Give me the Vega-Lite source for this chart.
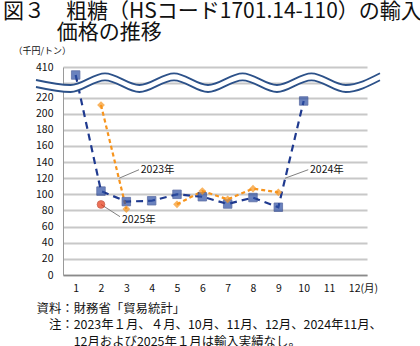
{
  "$schema": "https://vega.github.io/schema/vega-lite/v6.json",
  "width": 304,
  "height": 208,
  "autosize": {"type": "none"},
  "padding": {"left": 63, "top": 67, "right": 53, "bottom": 71},
  "background": "white",
  "title": {
    "text": ["図３　粗糖（HSコード1701.14-110）の輸入", "\u200b　　\u2002\u200a価格の推移"],
    "anchor": "start",
    "frame": "group",
    "dx": -60,
    "dy": 1,
    "fontSize": 21,
    "lineHeight": 21.5,
    "font": "Noto Sans CJK JP",
    "fontWeight": "normal",
    "color": "#111111"
  },
  "config": {
    "view": {"stroke": null},
    "font": "Noto Sans CJK JP"
  },
  "datasets": {
    "series": [
      {"series": "2024", "seg": "a", "month": 1, "value": 400},
      {"series": "2024", "seg": "a", "month": 2, "value": 104},
      {"series": "2024", "seg": "a", "month": 3, "value": 91},
      {"series": "2024", "seg": "a", "month": 4, "value": 92},
      {"series": "2024", "seg": "a", "month": 5, "value": 100},
      {"series": "2024", "seg": "a", "month": 6, "value": 97},
      {"series": "2024", "seg": "a", "month": 7, "value": 88},
      {"series": "2024", "seg": "a", "month": 8, "value": 96},
      {"series": "2024", "seg": "a", "month": 9, "value": 84},
      {"series": "2024", "seg": "a", "month": 10, "value": 215.7},
      {"series": "2023", "seg": "a", "month": 2, "value": 210.7},
      {"series": "2023", "seg": "a", "month": 3, "value": 81.8},
      {"series": "2023", "seg": "b", "month": 5, "value": 87.6},
      {"series": "2023", "seg": "b", "month": 6, "value": 104},
      {"series": "2023", "seg": "b", "month": 7, "value": 93.8},
      {"series": "2023", "seg": "b", "month": 8, "value": 107},
      {"series": "2023", "seg": "b", "month": 9, "value": 102.5},
      {"series": "2025", "seg": "a", "month": 2, "value": 87.4}
    ],
    "wave": [
      {"month": -0.566, "value": 393.75, "value2": 343.1},
      {"month": 0.8, "value": 366.6, "value2": 284.5},
      {"month": 2.158, "value": 402.1, "value2": 393.4},
      {"month": 3.516, "value": 366.6, "value2": 284.5},
      {"month": 4.882, "value": 402.1, "value2": 393.4},
      {"month": 6.224, "value": 366.6, "value2": 284.5},
      {"month": 7.589, "value": 402.1, "value2": 393.4},
      {"month": 8.947, "value": 366.6, "value2": 284.5},
      {"month": 10.305, "value": 402.1, "value2": 393.4},
      {"month": 11.663, "value": 366.6, "value2": 284.5},
      {"month": 13.013, "value": 402.1, "value2": 393.4}
    ],
    "leaders": [
      {"label": "2023年", "month": 2.72, "value": 120, "month2": 3.5, "value2": 130.5, "lx": 3.57, "ly": 130.5},
      {"label": "2025年", "month": 2.0, "value": 87.4, "month2": 2.75, "value2": 72.3, "lx": 2.83, "ly": 68.2},
      {"label": "2024年", "month": 9.263, "value": 119.9, "month2": 10.18, "value2": 130.5, "lx": 10.25, "ly": 130.5}
    ]
  },
  "encoding": {
    "x": {
      "field": "month",
      "type": "quantitative",
      "scale": {"domain": [0.5, 12.5], "nice": false, "zero": false},
      "axis": {
        "values": [1, 2, 3, 4, 5, 6, 7, 8, 9, 10, 11, 12],
        "labelExpr": "datum.value == 12 ? '12(月)' : datum.label",
        "labelAlign": {"condition": {"test": "datum.value == 12", "value": "left"}, "value": "center"},
        "labelOffset": {"condition": {"test": "datum.value == 12", "value": -6}, "value": 0},
        "labelFontSize": 10.5,
        "labelColor": "#111111",
        "labelPadding": 8,
        "ticks": false,
        "grid": false,
        "domainColor": "#8a8a8a",
        "domainWidth": 1.5,
        "title": ["資料：財務省「貿易統計」", "\u200b　注：2023年１月、４月、10月、11月、12月、2024年11月、", "\u200b　　　12月および2025年１月は輸入実績なし。"],
        "titleX": -27,
        "titleY": 27,
        "titleAlign": "left",
        "titleBaseline": "top",
        "titleFontSize": 12.4,
        "titleLineHeight": 16.7,
        "titleFontWeight": "normal",
        "titleColor": "#111111",
        "titleAngle": 0
      }
    },
    "y": {
      "field": "value",
      "type": "quantitative",
      "scale": {"domain": [0, 220, 390, 410], "range": [208, 30.5, 16, 0], "nice": false, "zero": false},
      "axis": {
        "values": [0, 20, 40, 60, 80, 100, 120, 140, 160, 180, 200, 220, 390, 410],
        "labelExpr": "datum.value == 390 ? '' : datum.label",
        "labelFontSize": 10.5,
        "labelColor": "#111111",
        "labelPadding": 10,
        "ticks": false,
        "grid": true,
        "gridColor": "#c8c8c8",
        "gridWidth": 2,
        "domainColor": "#9a9a9a",
        "domainWidth": 1,
        "title": "（千円/トン）",
        "titleX": -50,
        "titleY": -17,
        "titleAngle": 0,
        "titleAlign": "left",
        "titleBaseline": "middle",
        "titleFontSize": 9,
        "titleFontWeight": "normal",
        "titleColor": "#111111"
      }
    }
  },
  "layer": [
    {
      "data": {"name": "series"},
      "transform": [{"filter": "datum.series == '2024'"}],
      "mark": {"type": "line", "color": "#1f3a8f", "strokeWidth": 2.2, "strokeDash": [7, 5]}
    },
    {
      "data": {"name": "series"},
      "transform": [{"filter": "datum.series == '2023'"}],
      "mark": {"type": "line", "color": "#f7941d", "strokeWidth": 2.2, "strokeDash": [4, 3]},
      "encoding": {"detail": {"field": "seg"}}
    },
    {
      "data": {"name": "wave"},
      "mark": {"type": "area", "color": "white", "interpolate": "monotone"},
      "encoding": {"y2": {"field": "value2"}}
    },
    {
      "data": {"name": "wave"},
      "mark": {"type": "line", "color": "#2c5189", "strokeWidth": 1.8, "interpolate": "monotone"}
    },
    {
      "data": {"name": "wave"},
      "mark": {"type": "line", "color": "#2c5189", "strokeWidth": 1.8, "interpolate": "monotone"},
      "encoding": {
        "y": {
          "field": "value2",
          "type": "quantitative",
          "scale": {"domain": [0, 220, 390, 410], "range": [208, 30.5, 16, 0], "nice": false, "zero": false}
        }
      }
    },
    {
      "data": {"name": "leaders"},
      "mark": {"type": "rule", "color": "#808080", "strokeWidth": 1},
      "encoding": {"x2": {"field": "month2"}, "y2": {"field": "value2"}}
    },
    {
      "data": {"name": "leaders"},
      "mark": {"type": "text", "align": "left", "baseline": "middle", "fontSize": 10.5, "color": "#111111"},
      "encoding": {
        "x": {"field": "lx", "type": "quantitative", "scale": {"domain": [0.5, 12.5], "nice": false, "zero": false}},
        "y": {"field": "ly", "type": "quantitative", "scale": {"domain": [0, 220, 390, 410], "range": [208, 30.5, 16, 0], "nice": false, "zero": false}},
        "text": {"field": "label"}
      }
    },
    {
      "data": {"name": "series"},
      "transform": [{"filter": "datum.series == '2024'"}],
      "mark": {"type": "point", "shape": "square", "filled": true, "size": 72, "color": "#2c4ea3", "stroke": "#1d3580", "strokeWidth": 0.8}
    },
    {
      "data": {"name": "series"},
      "transform": [{"filter": "datum.series == '2023'"}],
      "mark": {"type": "point", "shape": "diamond", "filled": true, "size": 60, "color": "#f7941d"}
    },
    {
      "data": {"name": "series"},
      "transform": [{"filter": "datum.series == '2025'"}],
      "mark": {"type": "point", "shape": "circle", "filled": true, "size": 60, "color": "#e8340f", "stroke": "#b02a10", "strokeWidth": 0.8}
    }
  ]
}
